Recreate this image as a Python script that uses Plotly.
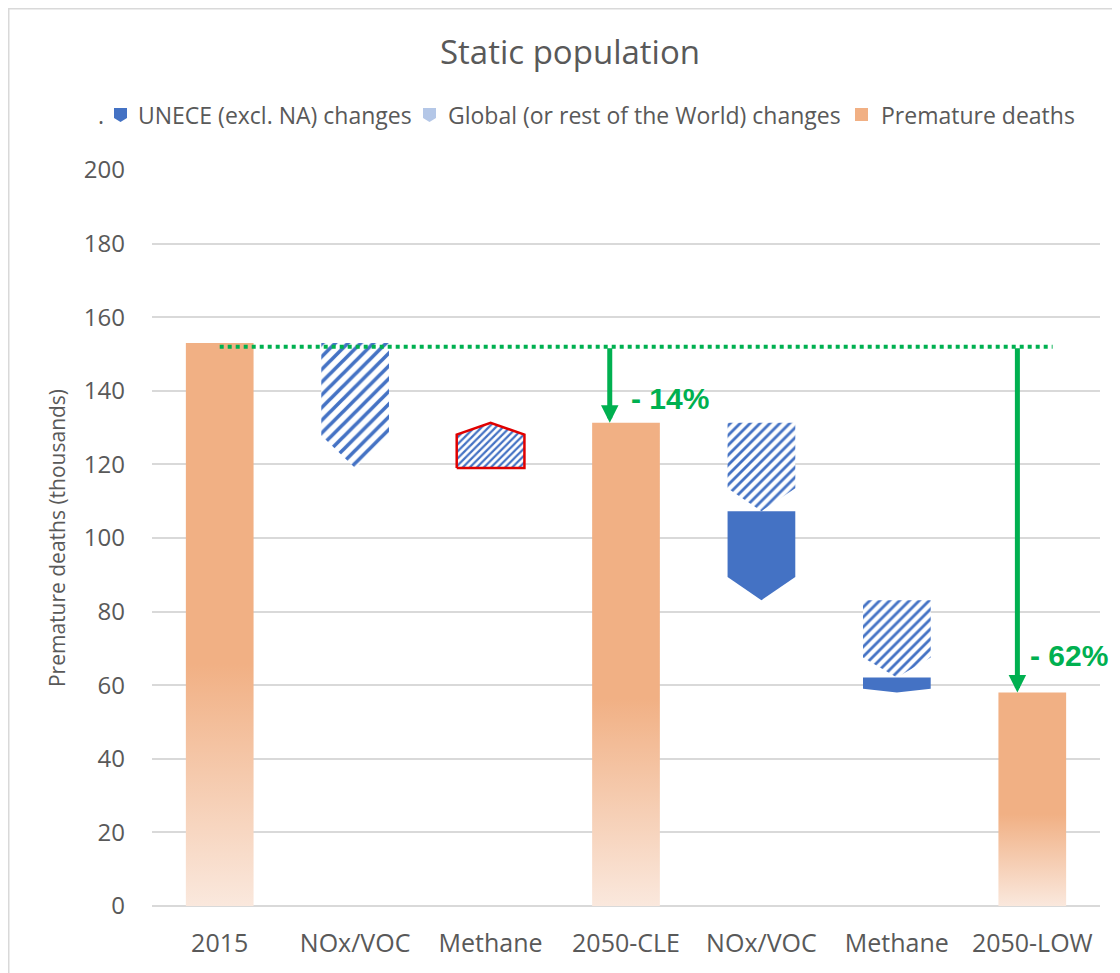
import plotly.graph_objects as go

# ---------------- data ----------------
categories = ["2015", "NOx/VOC", "Methane", "2050-CLE", "NOx/VOC", "Methane", "2050-LOW"]
totals = [153.0, None, None, 131.3, None, None, 58.0]          # premature deaths (thousands)
global_change = [None, -34.0, 12.3, None, -24.0, -21.0, None]  # global / rest of world
unece_change = [None, 0.0, 0.0, None, -24.2, -4.1, None]       # UNECE (excl. NA)
ref_level = 152.0                                              # dotted reference line
y_ticks = [0, 20, 40, 60, 80, 100, 120, 140, 160, 180, 200]

# ---------------- style ----------------
OFF = 8                      # browser body margin
W, H = 1120 - OFF, 973 - OFF
ML, MR, MT, MB = 152 - OFF, 20, 170 - OFF, 67
PW, PH = W - ML - MR, H - MT - MB
TXT = "#595959"
BLUE = "#4472C4"
LBLUE = "#B4C7E7"
ORANGE = "#F1B084"
GREEN = "#00B050"
FONT = "Open Sans"
BAR_W = 0.5
TIP = 0.26


def px2paper(x, y):
    """page pixel -> paper coords"""
    x, y = x - OFF, y - OFF
    return (x - ML) / PW, (H - MB - y) / PH


def arrow_poly(xc, y0, y1, w):
    t = TIP * (y1 - y0)
    xs = [xc - w / 2, xc + w / 2, xc + w / 2, xc, xc - w / 2, xc - w / 2]
    ys = [y0, y0, y1 - t, y1, y1 - t, y0]
    return xs, ys


fig = go.Figure()

level = None
for i, cat in enumerate(categories):
    if totals[i] is not None:
        v = totals[i]
        fig.add_trace(go.Scatter(
            x=[i - BAR_W / 2, i + BAR_W / 2, i + BAR_W / 2, i - BAR_W / 2, i - BAR_W / 2],
            y=[0, 0, v, v, 0], fill="toself", mode="lines",
            line=dict(width=0, color="rgba(0,0,0,0)"),
            fillgradient=dict(type="vertical",
                              colorscale=[[0, "#FAE8DD"], [0.43, ORANGE], [1, ORANGE]]),
            name="Premature deaths", showlegend=False, hoverinfo="skip"))
        level = v
        continue
    g = global_change[i]
    if g:
        xs, ys = arrow_poly(i, level, level + g, BAR_W)
        up = g > 0
        fig.add_trace(go.Scatter(
            x=xs, y=ys, fill="toself", mode="lines",
            line=dict(width=2.5 if up else 0, color="#E00000" if up else "rgba(0,0,0,0)"),
            fillcolor=BLUE,
            fillpattern=dict(shape="/", size=5 if up else (9 if i == 1 else 7),
                             solidity=0.45 if up else 0.4, fgcolor=BLUE, fgopacity=1,
                             bgcolor="white", fillmode="replace"),
            name="Global (or rest of the World) changes", showlegend=False, hoverinfo="skip"))
        level = level + g
    u = unece_change[i]
    if u:
        xs, ys = arrow_poly(i, level, level + u, BAR_W)
        fig.add_trace(go.Scatter(
            x=xs, y=ys, fill="toself", mode="lines",
            line=dict(width=0, color="rgba(0,0,0,0)"), fillcolor=BLUE,
            name="UNECE (excl. NA) changes", showlegend=False, hoverinfo="skip"))
        level = level + u

shapes = []
annotations = []

# dotted reference line
shapes.append(dict(type="line", xref="x", yref="y", x0=0, x1=6.15, y0=ref_level, y1=ref_level,
                   line=dict(color=GREEN, width=4, dash="dot"), layer="above"))

# green arrows + percentage labels
for idx, ax_x, lx, ly in [(3, 2.88, 3.02, 138.0), (6, 5.89, 5.97, 68.2)]:
    annotations.append(dict(x=ax_x, y=totals[idx], ax=ax_x, ay=ref_level, xref="x", yref="y",
                            axref="x", ayref="y", text="", showarrow=True, arrowhead=2,
                            arrowsize=0.7, arrowwidth=5, arrowcolor=GREEN))
    pct = round((totals[idx] / totals[0] - 1) * 100)
    annotations.append(dict(x=lx, y=ly, xref="x", yref="y", xanchor="left", yanchor="middle",
                            text=f"- {abs(pct)}%", showarrow=False,
                            font=dict(family="Liberation Sans", size=30, color=GREEN,
                                      weight="bold")))

# manual legend
ly = 115
lx_, ly_ = px2paper(101, ly)
annotations.append(dict(x=lx_, y=ly_, xref="paper", yref="paper", text=".", showarrow=False,
                        xanchor="center", yanchor="middle", font=dict(family=FONT, size=23, color=TXT)))


def shield(x0, color):
    pts = [(x0, 108), (x0 + 13, 108), (x0 + 13, 118), (x0 + 6.5, 122), (x0, 118)]
    p = " ".join(("M" if k == 0 else "L") + "%.5f,%.5f" % px2paper(*pt) for k, pt in enumerate(pts)) + " Z"
    return dict(type="path", xref="paper", yref="paper", path=p, fillcolor=color,
                line=dict(width=0))


shapes.append(shield(114, BLUE))
shapes.append(shield(423, LBLUE))
sx0, sy0 = px2paper(855, 121)
sx1, sy1 = px2paper(868, 108)
shapes.append(dict(type="rect", xref="paper", yref="paper", x0=sx0, x1=sx1, y0=sy0, y1=sy1,
                   fillcolor=ORANGE, line=dict(width=0)))
for xt, label in [(136, "UNECE (excl. NA) changes"),
                  (446, "Global (or rest of the World) changes"),
                  (879, "Premature deaths")]:
    px_, py_ = px2paper(xt, ly)
    annotations.append(dict(x=px_, y=py_, xref="paper", yref="paper", text=label,
                            showarrow=False, xanchor="left", yanchor="middle",
                            font=dict(family=FONT, size=23, color=TXT)))

# outer frame
fx0, fy0 = px2paper(OFF + 0.75, OFF + 0.75)
fx1, fy1 = px2paper(1140, 1000)
shapes.append(dict(type="rect", xref="paper", yref="paper", x0=fx0, x1=fx1, y0=fy1, y1=fy0,
                   line=dict(color="#D9D9D9", width=1.5), fillcolor="rgba(0,0,0,0)", layer="below"))

fig.update_layout(
    width=W, height=H,
    margin=dict(l=ML, r=MR, t=MT, b=MB, pad=0),
    paper_bgcolor="white", plot_bgcolor="white",
    font=dict(family=FONT, color=TXT, size=23),
    title=dict(text="Static population", x=(570 - OFF) / W, xref="container", xanchor="center",
               y=1 - (52 - OFF) / H, yref="container", yanchor="middle",
               font=dict(family=FONT, size=33, color=TXT)),
    showlegend=False,
    xaxis=dict(range=[-0.5, 6.5], tickmode="array", tickvals=list(range(len(categories))),
               ticktext=categories, showgrid=False, zeroline=False, showline=False,
               ticks="", tickfont=dict(size=25, color=TXT), ticklabelstandoff=20,
               fixedrange=True),
    yaxis=dict(range=[0, 200], tickmode="array", tickvals=y_ticks, showgrid=True,
               gridcolor="#D9D9D9", gridwidth=1.5, zeroline=True, zerolinecolor="#D9D9D9",
               zerolinewidth=1.5, showline=False, ticks="", tickfont=dict(size=24, color=TXT),
               ticklabelstandoff=26,
               title=dict(text="Premature deaths (thousands)", standoff=12,
                          font=dict(size=21, color=TXT)),
               fixedrange=True),
    shapes=shapes, annotations=annotations,
)

fig.write_html("out.html")
